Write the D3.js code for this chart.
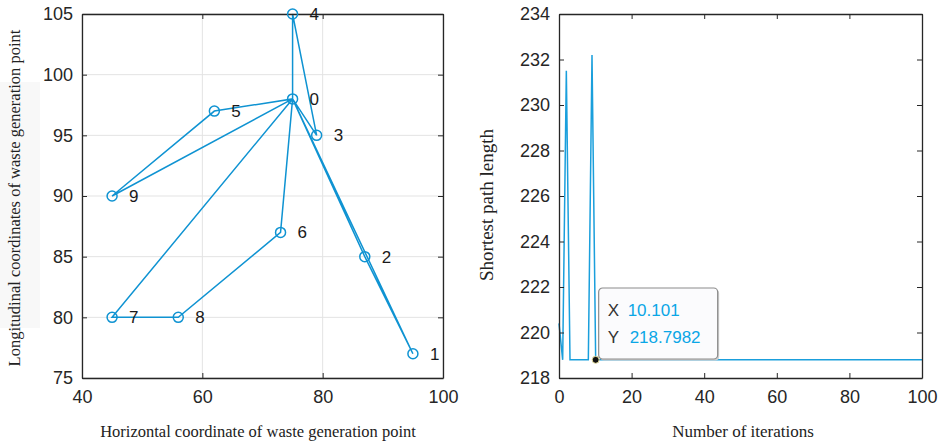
<!DOCTYPE html>
<html>
<head>
<meta charset="utf-8">
<script src="https://cdn.jsdelivr.net/npm/d3@7"></script>
<style>
  body { margin: 0; background: #fff; }
  svg { display: block; }
  .tick text { font-family: "Liberation Sans", Arial, sans-serif; font-size: 18px; fill: #262626; }
  .label { font-family: "Liberation Serif", "DejaVu Serif", serif; fill: #222; }
</style>
</head>
<body>
<svg width="941" height="441"></svg>
<script>
// **** data ****
var nodeIds = [0, 1, 2, 3, 4, 5, 6, 7, 8, 9];
var nodeX = [75, 95, 87, 79, 75, 62, 73, 45, 56, 45];
var nodeY = [98, 77, 85, 95, 105, 97, 87, 80, 80, 90];
var route = [0, 4, 3, 0, 2, 1, 0, 5, 9, 0, 7, 8, 6, 0];

var iterX = [0, 1.0101, 2.0202, 3.0303, 8.0808, 9.0909, 10.101, 100];
var pathLen = [220.4, 218.7982, 231.5, 218.7982, 218.7982, 232.2, 218.7982, 218.7982];

var leftXTicks = [40, 60, 80, 100];
var leftYTicks = [75, 80, 85, 90, 95, 100, 105];
var rightXTicks = [0, 20, 40, 60, 80, 100];
var rightYTicks = [218, 220, 222, 224, 226, 228, 230, 232, 234];

var tipX = 10.101, tipY = 218.7982;

var svg = d3.select('svg');
var lineColor = '#0f93d2';

// **** left chart: route map ****
var xL = d3.scaleLinear().domain([40, 100]).range([82, 443]);
var yL = d3.scaleLinear().domain([75, 105]).range([378, 14]);

// faint band behind the y label (as in the original figure)
svg.append('rect').attr('x', 0).attr('y', 82).attr('width', 40).attr('height', 246)
    .attr('fill', '#f8f8f8');

var gL = svg.append('g');

// grid
gL.selectAll('.gx').data(leftXTicks).enter().append('line')
    .attr('x1', d => xL(d)).attr('x2', d => xL(d))
    .attr('y1', yL(75)).attr('y2', yL(105))
    .attr('stroke', '#e3e3e3').attr('stroke-width', 1);
gL.selectAll('.gy').data(leftYTicks).enter().append('line')
    .attr('x1', xL(40)).attr('x2', xL(100))
    .attr('y1', d => yL(d)).attr('y2', d => yL(d))
    .attr('stroke', '#e3e3e3').attr('stroke-width', 1);

function drawAxes(g, xs, ys, xt, yt) {
    g.append('g').attr('class', 'x axis')
        .attr('transform', 'translate(0,' + ys.range()[0] + ')')
        .call(d3.axisBottom(xs).tickValues(xt).tickSizeInner(-5).tickSizeOuter(0).tickPadding(12));
    g.append('g').attr('class', 'x axis top')
        .attr('transform', 'translate(0,' + ys.range()[1] + ')')
        .call(d3.axisTop(xs).tickValues(xt).tickSizeInner(-5).tickSizeOuter(0).tickFormat(''));
    g.append('g').attr('class', 'y axis')
        .attr('transform', 'translate(' + xs.range()[0] + ',0)')
        .call(d3.axisLeft(ys).tickValues(yt).tickSizeInner(-5).tickSizeOuter(0).tickPadding(9));
    g.append('g').attr('class', 'y axis right')
        .attr('transform', 'translate(' + xs.range()[1] + ',0)')
        .call(d3.axisRight(ys).tickValues(yt).tickSizeInner(-5).tickSizeOuter(0).tickFormat(''));
    g.selectAll('.domain').attr('stroke', '#262626').attr('stroke-width', 1.3);
    g.selectAll('.tick line').attr('stroke', '#262626');
}

// route lines
var routePts = route.map(function (id) { return [xL(nodeX[id]), yL(nodeY[id])]; });
gL.append('path')
    .attr('d', d3.line()(routePts))
    .attr('fill', 'none')
    .attr('stroke', lineColor)
    .attr('stroke-width', 1.5);

drawAxes(gL, xL, yL, leftXTicks, leftYTicks);

gL.selectAll('circle.node').data(nodeIds).enter().append('circle')
    .attr('class', 'node')
    .attr('cx', d => xL(nodeX[d]))
    .attr('cy', d => yL(nodeY[d]))
    .attr('r', 5)
    .attr('fill', 'none')
    .attr('stroke', lineColor)
    .attr('stroke-width', 1.5);

gL.selectAll('text.nodelabel').data(nodeIds).enter().append('text')
    .attr('class', 'nodelabel')
    .attr('x', d => xL(nodeX[d]) + 17)
    .attr('y', d => yL(nodeY[d]) + 6)
    .style('font-family', '"Liberation Sans", Arial, sans-serif')
    .style('font-size', '17px')
    .attr('fill', '#1a1a1a')
    .text(d => d);

svg.append('text').attr('class', 'label')
    .attr('text-anchor', 'middle')
    .attr('transform', 'translate(258,437)')
    .style('font-size', '16.5px')
    .text('Horizontal coordinate of waste generation point');

svg.append('text').attr('class', 'label')
    .attr('text-anchor', 'middle')
    .attr('transform', 'translate(20,198) rotate(-90)')
    .style('font-size', '16.5px')
    .text('Longitudinal coordinates of waste generation point');

// **** right chart: convergence ****
var xR = d3.scaleLinear().domain([0, 100]).range([559, 922]);
var yR = d3.scaleLinear().domain([218, 234]).range([378, 14]);
var gR = svg.append('g');

gR.append('path')
    .attr('d', d3.line().x((d, i) => xR(iterX[i])).y((d, i) => yR(pathLen[i]))(pathLen))
    .attr('fill', 'none')
    .attr('stroke', '#1a9fdc')
    .attr('stroke-width', 1.5);

drawAxes(gR, xR, yR, rightXTicks, rightYTicks);

// data tip
gR.append('circle')
    .attr('cx', xR(tipX)).attr('cy', yR(tipY)).attr('r', 3.5)
    .attr('fill', '#111').attr('stroke', '#e8e0a0').attr('stroke-width', 1);

var tipG = gR.append('g').attr('transform', 'translate(' + (xR(tipX) + 3) + ',288)');
tipG.append('rect')
    .attr('x', 1.5).attr('y', 1.5).attr('width', 119).attr('height', 71).attr('rx', 4)
    .attr('fill', '#cfcfcf');
tipG.append('rect')
    .attr('x', 0).attr('y', 0).attr('width', 119).attr('height', 71).attr('rx', 4)
    .attr('fill', '#fbfbfd').attr('stroke', '#8c8c8c').attr('stroke-width', 1.2);
var tipRows = [['X', tipX.toFixed(3)], ['Y', tipY.toFixed(4)]];
tipG.selectAll('text.tk').data(tipRows).enter().append('text')
    .attr('x', 9).attr('y', (d, i) => 28 + i * 27)
    .style('font-family', '"Liberation Sans", Arial, sans-serif')
    .style('font-size', '17px')
    .attr('fill', '#333')
    .text(d => d[0]);
tipG.selectAll('text.tv').data(tipRows).enter().append('text')
    .attr('x', (d, i) => i === 0 ? 29 : 31).attr('y', (d, i) => 28 + i * 27)
    .style('font-family', '"Liberation Sans", Arial, sans-serif')
    .style('font-size', '17px')
    .attr('fill', '#0aa6e6')
    .text(d => d[1]);

svg.append('text').attr('class', 'label')
    .attr('text-anchor', 'middle')
    .attr('transform', 'translate(743,437)')
    .style('font-size', '17px')
    .text('Number of iterations');

svg.append('text').attr('class', 'label')
    .attr('text-anchor', 'middle')
    .attr('transform', 'translate(493,205) rotate(-90)')
    .style('font-size', '19px')
    .text('Shortest path length');
</script>
</body>
</html>
